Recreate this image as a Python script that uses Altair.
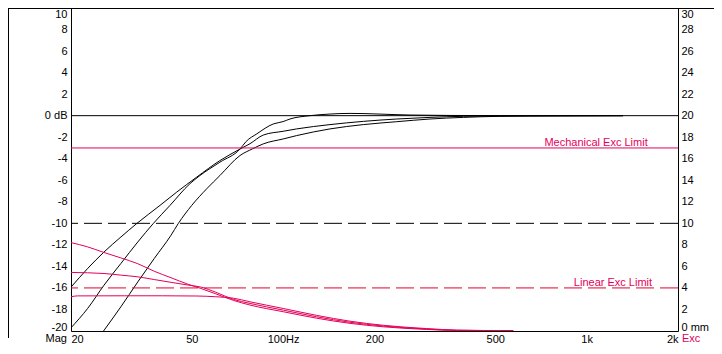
import altair as alt
import pandas as pd

FONT = "Liberation Sans"
BLACK = "#000000"
RED = "#e4005a"
RED_DASH = "#e2002c"

# ---- axis ticks ----
x_ticks = [20, 50, 100, 200, 500, 1000, 2000]
db_ticks = list(range(-20, 11, 2))
mm_ticks = list(range(0, 31, 2))

# ---- magnitude curves (Hz, dB) ----
mag_a_freq = [25.6, 29.2, 33.2, 37.6, 42.7, 45.1, 50.0, 56.0, 61.9, 72.1, 79.3, 86.0, 100.1,
              110.8, 142.7, 183.7, 236.7, 304.7, 392.3, 518, 817, 1318]
mag_a_db = [-20.0, -17.75, -15.44, -13.27, -11.11, -10.03, -8.33, -6.79, -5.56, -3.70, -3.08,
            -2.62, -2.16, -1.85, -1.23, -0.83, -0.56, -0.31, -0.16, -0.06, -0.02, 0.0]

mag_b_freq = [20, 22.7, 25.7, 29.2, 33.2, 37.3, 42.4, 49.3, 53.2, 61.9, 72.1, 75.5, 81.9,
              92.8, 100.0, 105.3, 122.6, 142.7, 166.1, 261.8, 354.7, 518, 1318]
mag_b_db = [-19.7, -17.9, -15.74, -13.73, -11.73, -10.03, -8.33, -6.32, -5.56, -4.32, -3.1,
            -2.4, -1.69, -0.77, -0.55, -0.31, 0.0, 0.15, 0.21, 0.06, 0.02, 0.0, 0.0]

mag_c_freq = [20, 22.7, 25.7, 29.2, 32.9, 39.3, 44.6, 51.9, 61.9, 72.1, 77.8, 86.0, 100.0,
              110.8, 142.7, 183.7, 236.7, 304.7, 392.3, 603, 1318]
mag_c_db = [-15.93, -14.19, -12.66, -11.27, -10.03, -8.33, -7.10, -5.71, -4.17, -3.1, -2.6,
            -1.8, -1.45, -1.23, -0.83, -0.53, -0.31, -0.16, -0.06, -0.02, 0.0]

# ---- excursion curves (Hz, mm) ----
exc_1_freq = [20, 22.7, 25.7, 29.2, 33.2, 37.6, 42.7, 48.5, 53.6, 60, 68.5, 77.8, 100.1,
              129, 166.1, 213.8, 297, 373, 573]
exc_1_mm = [8.21, 7.81, 7.29, 6.79, 6.25, 5.55, 4.95, 4.35, 3.95, 3.45, 2.85, 2.41, 1.79,
            1.19, 0.71, 0.39, 0.145, 0.045, 0.03]

exc_2_freq = [20, 25.7, 29.2, 33.2, 37.6, 42.7, 48.5, 53.6, 60, 68.5, 77.8, 100.1, 129,
              166.1, 213.8, 297, 373, 573]
exc_2_mm = [5.44, 5.34, 5.19, 5.03, 4.78, 4.52, 4.27, 4.08, 3.6, 2.94, 2.56, 1.94, 1.32,
            0.81, 0.46, 0.185, 0.065, 0.03]

exc_3_freq = [20, 21, 30, 40, 52, 60, 68.5, 77.8, 100.1, 129, 166.1, 213.8, 297, 373, 573]
exc_3_mm = [3.18, 3.26, 3.27, 3.27, 3.25, 3.18, 3.05, 2.71, 2.09, 1.45, 0.91, 0.53, 0.225,
            0.085, 0.03]

# ---- reference lines ----
db_solid = [0]
db_dashed = [-10]
mech_limit_mm = [17]
linear_limit_mm = [4]
mech_label = ["Mechanical Exc Limit"]
mech_label_f = [1074]
linear_label = ["Linear Exc Limit"]
linear_label_f = [1221]

W, H = 607, 323


def series(name, freq, vals):
    return pd.DataFrame({"f": freq, "v": vals, "s": name})


mag_df = pd.concat([series("A", mag_a_freq, mag_a_db),
                    series("B", mag_b_freq, mag_b_db),
                    series("C", mag_c_freq, mag_c_db)], ignore_index=True)
exc_df = pd.concat([series("1", exc_1_freq, exc_1_mm),
                    series("2", exc_2_freq, exc_2_mm),
                    series("3", exc_3_freq, exc_3_mm)], ignore_index=True)

x_axis = alt.Axis(values=x_ticks,
                  labelExpr="datum.value == 100 ? '100Hz' : datum.value == 1000 ? '1k' : "
                            "datum.value == 2000 ? '2k' : '' + datum.value",
                  labelFlush=True, ticks=False, grid=False, domain=False, labelPadding=2,
                  title=None, labelFont=FONT, labelFontSize=11, labelColor=BLACK)
x_enc = alt.X("f:Q", scale=alt.Scale(type="log", domain=[20, 2000], nice=False), axis=x_axis)

left_axis = alt.Axis(orient="left", values=db_ticks,
                     labelExpr="datum.value == 0 ? '0 dB' : '' + datum.value",
                     labelBaseline={"condition": [{"test": "datum.value == 10", "value": "top"},
                                                  {"test": "datum.value == -20", "value": "alphabetic"}],
                                    "value": "middle"},
                     labelOffset={"condition": {"test": "datum.value == -20", "value": -1}, "value": 0},
                     ticks=False, grid=False, domain=False, labelPadding=4, title=None,
                     minExtent=63, maxExtent=63,
                     labelFont=FONT, labelFontSize=11, labelColor=BLACK)
right_axis = alt.Axis(orient="right", values=mm_ticks,
                      labelExpr="datum.value == 0 ? '0 mm' : '' + datum.value",
                      labelBaseline={"condition": [{"test": "datum.value == 30", "value": "top"},
                                                   {"test": "datum.value == 0", "value": "alphabetic"}],
                                     "value": "middle"},
                      labelOffset={"condition": {"test": "datum.value == 0", "value": -1}, "value": 0},
                      ticks=False, grid=False, domain=False, labelPadding=3, title=None,
                      labelFont=FONT, labelFontSize=11, labelColor=BLACK)

y_db = alt.Y("v:Q", scale=alt.Scale(domain=[-20, 10], nice=False, zero=False), axis=left_axis)
y_mm = alt.Y("v:Q", scale=alt.Scale(domain=[0, 30], nice=False, zero=False), axis=right_axis)

# ---- left (dB) group ----
mag_lines = alt.Chart(mag_df).mark_line(color=BLACK, strokeWidth=1, interpolate="monotone",
                                        clip=True).encode(x=x_enc, y=y_db, detail="s:N")
zero_rule = alt.Chart(pd.DataFrame({"v": db_solid})).mark_rule(color=BLACK, strokeWidth=1).encode(y=y_db)
dash_rule = alt.Chart(pd.DataFrame({"v": db_dashed})).mark_rule(
    color=BLACK, strokeWidth=1, strokeDash=[18, 6]).encode(y=y_db)
mag_word = alt.Chart(pd.DataFrame({"f": [20], "t": ["Mag"]})).mark_text(
    align="right", baseline="top", dx=-4, font=FONT, fontSize=11, color=BLACK
).encode(x=x_enc, y=alt.value(H + 2), text="t:N")
frame_left = alt.Chart(pd.DataFrame({"k": [0]})).mark_rule(color=BLACK, strokeWidth=1).encode(
    x=alt.value(-62.5), y=alt.value(0), y2=alt.value(H + 7))
frame_top = alt.Chart(pd.DataFrame({"k": [0]})).mark_rule(color=BLACK, strokeWidth=1).encode(
    x=alt.value(-63), x2=alt.value(W + 36), y=alt.value(0.5))

left = alt.layer(mag_lines, zero_rule, dash_rule, mag_word, frame_left, frame_top)

# ---- right (mm) group ----
exc_lines = alt.Chart(exc_df).mark_line(color=RED, strokeWidth=1, interpolate="monotone",
                                        clip=True).encode(x=x_enc, y=y_mm, detail="s:N")
mech_rule = alt.Chart(pd.DataFrame({"v": mech_limit_mm})).mark_rule(color=RED, strokeWidth=1).encode(y=y_mm)
lin_rule = alt.Chart(pd.DataFrame({"v": linear_limit_mm})).mark_rule(
    color=RED_DASH, strokeWidth=1, strokeDash=[18, 6]).encode(y=y_mm)
mech_text = alt.Chart(pd.DataFrame({"f": mech_label_f, "v": mech_limit_mm, "t": mech_label})).mark_text(
    align="center", baseline="alphabetic", dy=-1.5, font=FONT, fontSize=11, color=RED
).encode(x=x_enc, y=y_mm, text="t:N")
lin_text = alt.Chart(pd.DataFrame({"f": linear_label_f, "v": linear_limit_mm, "t": linear_label})).mark_text(
    align="center", baseline="alphabetic", dy=-2, font=FONT, fontSize=11, color=RED
).encode(x=x_enc, y=y_mm, text="t:N")
exc_word = alt.Chart(pd.DataFrame({"f": [2000], "t": ["Exc"]})).mark_text(
    align="left", baseline="top", dx=4, font=FONT, fontSize=11, color=RED
).encode(x=x_enc, y=alt.value(H + 2), text="t:N")

right = alt.layer(exc_lines, mech_rule, lin_rule, mech_text, lin_text, exc_word)

chart = alt.layer(left, right).resolve_scale(y="independent").properties(
    width=W, height=H,
    autosize=alt.AutoSizeParams(type="none"),
    padding={"left": 63, "top": 0, "right": 36, "bottom": 14},
    background="white",
).configure_view(stroke=BLACK, strokeWidth=1)

chart.save("out.html", embed_options={"renderer": "svg", "actions": False})
